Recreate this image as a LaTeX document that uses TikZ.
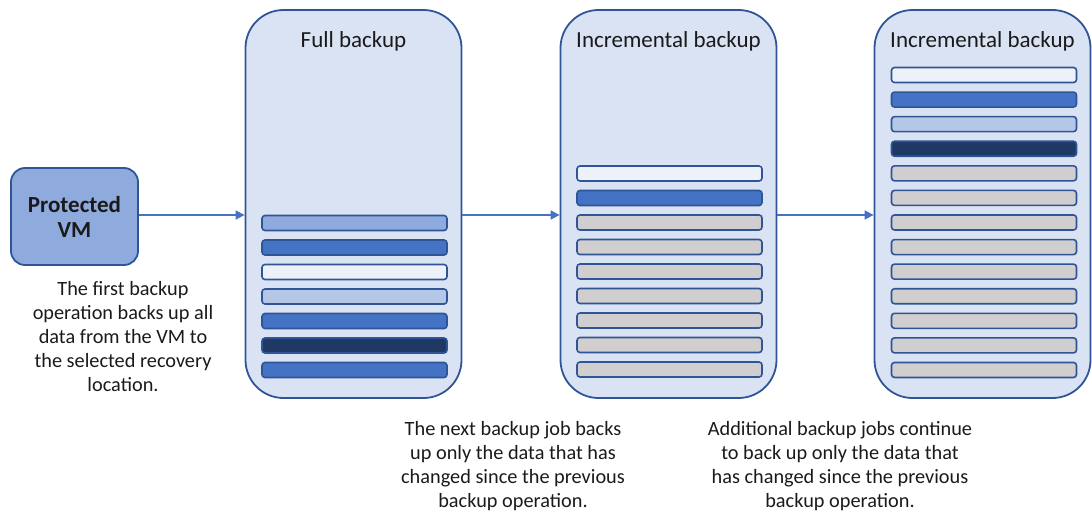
\documentclass[tikz,border=0pt]{standalone}
\usepackage{fontspec}
\setmainfont{Carlito}
\usetikzlibrary{arrows.meta}
\definecolor{cfill}{HTML}{DAE3F3}
\definecolor{cborder}{HTML}{2F5597}
\definecolor{bmed}{HTML}{8FAADC}
\definecolor{bblue}{HTML}{4472C4}
\definecolor{bwhite}{HTML}{EDF2FA}
\definecolor{blight}{HTML}{B4C7E7}
\definecolor{bdark}{HTML}{1F3864}
\definecolor{bgray}{HTML}{D0CECE}
\definecolor{arrowc}{HTML}{4472C4}
\definecolor{txt}{HTML}{1A1A1A}
\tikzset{
  container/.style={draw=cborder, fill=cfill, line width=1.8pt, rounded corners=38pt,
    minimum width=216pt, minimum height=388pt, inner sep=0pt},
  bar/.style={draw=cborder, line width=1.6pt, rounded corners=3pt,
    minimum width=185pt, minimum height=15pt, inner sep=0pt},
  vmbox/.style={draw=cborder, fill=bmed, line width=1.8pt, rounded corners=14pt,
    minimum width=127pt, minimum height=97pt, align=center, inner sep=0pt,
    font=\fontsize{23}{25}\selectfont\bfseries, text=txt},
  title/.style={font=\fontsize{23}{26}\selectfont, text=txt},
  note/.style={font=\fontsize{20.3}{24}\selectfont, text=txt, align=center},
  flow/.style={draw=arrowc, line width=1.6pt, -{Triangle[length=9pt,width=9pt]}}
}
\begin{document}
\begin{tikzpicture}[x=1pt,y=-1pt]
\useasboundingbox (0,0) rectangle (1092,514);
\node[vmbox] (vm) at (74.5,216.5) {Protected\\VM};
\node[container] (c1) at (353.5,204) {};
\node[container] (c2) at (668.5,204) {};
\node[container] (c3) at (982.5,204) {};
\node[title] (t1) at (353.5,41) {Full backup};
\node[title] (t2) at (668.5,41) {Incremental backup};
\node[title] (t3) at (982.5,41) {Incremental backup};
% full backup bars
\foreach \c [count=\i from 0] in {bmed,bblue,bwhite,blight,bblue,bdark,bblue} {
  \node[bar, fill=\c] (a\i) at (354.5,223+24.5*\i) {};
}
% incremental 1
\foreach \c [count=\i from 0] in {bwhite,bblue,bgray,bgray,bgray,bgray,bgray,bgray,bgray} {
  \node[bar, fill=\c] (b\i) at (669.5,173.5+24.5*\i) {};
}
% incremental 2
\foreach \c [count=\i from 0] in {bwhite,bblue,blight,bdark,bgray,bgray,bgray,bgray,bgray,bgray,bgray,bgray,bgray} {
  \node[bar, fill=\c] (d\i) at (984,75+24.58*\i) {};
}
\coordinate (y0) at (0,215);
\draw[flow] (vm.east |- y0) -- (c1.west |- y0);
\draw[flow] (c1.east |- y0) -- (c2.west |- y0);
\draw[flow] (c2.east |- y0) -- (c3.west |- y0);
\node[note, anchor=north] (n1) at (123,278) {The first backup\\operation backs up all\\data from the VM to\\the selected recovery\\location.};
\node[note, anchor=north] (n2) at (513,418) {The next backup job backs\\up only the data that has\\changed since the previous\\backup operation.};
\node[note, anchor=north] (n3) at (840,418) {Additional backup jobs continue\\to back up only the data that\\has changed since the previous\\backup operation.};
\end{tikzpicture}
\end{document}
